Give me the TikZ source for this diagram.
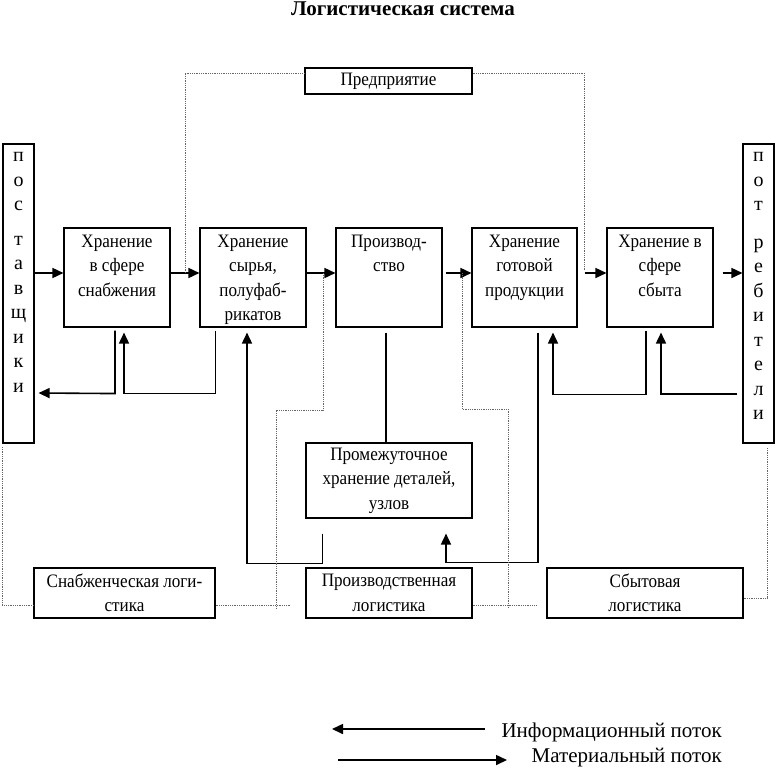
\documentclass[tikz,border=0pt]{standalone}
\usepackage{fontspec}
\setmainfont{Liberation Serif}
\newfontfamily\condfont[FakeStretch=0.9]{Liberation Serif}
\usetikzlibrary{arrows.meta}
\begin{document}
\begin{tikzpicture}[x=1pt,y=-1pt,
  box/.style={draw, line width=1.1pt, inner sep=0pt},
  btxt/.style={inner sep=0pt, align=center, font=\condfont\fontsize{19}{24.5}\selectfont},
  vtxt/.style={inner sep=0pt, align=center, font=\fontsize{20}{24.5}\selectfont},
  arr/.style={line width=1.6pt, -{Triangle[length=11pt,width=10pt]}},
  flow/.style={line width=1.6pt},
  dot/.style={densely dotted, line width=0.8pt, black!60}]
\useasboundingbox (0,0) rectangle (775,768);

% title
\node[anchor=base, font=\fontsize{21}{24}\selectfont\bfseries] (title) at (403,16) {Логистическая система};

% enterprise
\node[box, minimum width=167pt, minimum height=26pt, btxt] (ent) at (388.5,81) {Предприятие};

% suppliers / consumers
\node[box, minimum width=31pt, minimum height=299pt] (sup) at (18.5,293.5) {};
\node[box, minimum width=31pt, minimum height=299pt] (cons) at (758.5,293.5) {};
\node[vtxt, anchor=north] (suptxt) at ([yshift=-9pt]sup.north) {п\\о\\с\\[10pt]т\\а\\в\\щ\\и\\к\\и};
\node[vtxt, anchor=north] (constxt) at ([yshift=-9pt]cons.north) {п\\о\\т\\[13pt]р\\е\\б\\и\\т\\е\\л\\и};

% main boxes
\node[box, minimum width=106pt, minimum height=99pt] (b1) at (117,277.5) {};
\node[box, minimum width=106pt, minimum height=99pt] (b2) at (253,277.5) {};
\node[box, minimum width=106pt, minimum height=99pt] (b3) at (389,277.5) {};
\node[box, minimum width=105pt, minimum height=99pt] (b4) at (524.5,277.5) {};
\node[box, minimum width=106pt, minimum height=99pt] (b5) at (660,277.5) {};
\node[btxt, anchor=north] (t1) at ([yshift=-7pt]b1.north) {Хранение\\в сфере\\снабжения};
\node[btxt, anchor=north] (t2) at ([yshift=-7pt]b2.north) {Хранение\\сырья,\\полуфаб-\\рикатов};
\node[btxt, anchor=north] (t3) at ([yshift=-7pt]b3.north) {Производ-\\ство};
\node[btxt, anchor=north] (t4) at ([yshift=-7pt]b4.north) {Хранение\\готовой\\продукции};
\node[btxt, anchor=north] (t5) at ([yshift=-7pt]b5.north) {Хранение в\\сфере\\сбыта};

% intermediate storage
\node[box, minimum width=166pt, minimum height=75pt, btxt] (mid) at (389,480.5) {Промежуточное\\хранение деталей,\\узлов};

% logistics boxes
\node[box, minimum width=181pt, minimum height=50pt, btxt] (lsup) at (124.5,593) {Снабженческая логи-\\стика};
\node[box, minimum width=166pt, minimum height=50pt, btxt] (lprod) at (389,593) {Производственная\\логистика};
\node[box, minimum width=196pt, minimum height=50pt, btxt] (lsal) at (645,593) {Сбытовая\\логистика};

% material flow along the row
\draw[arr] ([yshift=20.5pt]sup.east) -- ([yshift=4.5pt]b1.west);
\draw[arr] ([yshift=4.5pt]b1.east) -- ([yshift=4.5pt]b2.west);
\draw[arr] ([yshift=4.5pt]b2.east) -- ([yshift=4.5pt]b3.west);
\draw[arr] ([yshift=4.5pt,xshift=3pt]b3.east) -- ([yshift=4.5pt]b4.west);
\draw[arr] ([yshift=4.5pt,xshift=7pt]b4.east) -- ([yshift=4.5pt]b5.west);
\draw[arr] ([yshift=4.5pt,xshift=9pt]b5.east) -- ([yshift=20.5pt]cons.west);

% lower connectors
\draw[arr] ([xshift=-2pt,yshift=-3pt]b1.south) -- ++(0,63) -- ([yshift=-99.5pt,xshift=4pt]sup.east);
\draw[arr] ([xshift=16pt,yshift=-3pt]b2.south west) -- ++(0,63) -| ([xshift=7pt,yshift=-5pt]b1.south);
\draw[arr] ([xshift=17pt,yshift=-15pt]mid.south west) -- ++(0,30) -| ([xshift=-6pt,yshift=-5pt]b2.south);
\draw[flow] ([xshift=-3pt,yshift=-5pt]b3.south) -- ([xshift=-3pt]mid.north);
\draw[arr] ([xshift=13.5pt,yshift=-5pt]b4.south) -- ++(0,230) -| ([xshift=57pt,yshift=-15pt]mid.south);
\draw[arr] ([xshift=-14pt,yshift=-3pt]b5.south) -- ++(0,64) -| ([xshift=28.5pt,yshift=-5pt]b4.south);
\draw[arr] ([yshift=-100.5pt,xshift=-5pt]cons.west) -| ([xshift=1pt,yshift=-5pt]b5.south);

% dotted boundaries
\coordinate (e1) at (185,273);
\coordinate (e2) at (185,73);
\coordinate (e3) at (584,73);
\coordinate (e4) at (584,270);
\draw[dot] (e1) -- (e2) -- ([yshift=8pt]ent.west);
\draw[dot] ([yshift=8pt]ent.east) -- (e3) -- (e4);
\coordinate (s1) at (2,447);
\coordinate (s2) at (2,605);
\draw[dot] (s1) -- (s2) -- ([yshift=-12pt]lsup.west);
\coordinate (p1) at (290,605);
\draw[dot] ([yshift=-12pt]lsup.east) -- (p1);
\coordinate (p2) at (323,273);
\coordinate (p3) at (323,410);
\coordinate (p4) at (276,410);
\coordinate (p5) at (276,609);
\draw[dot] (p2) -- (p3) -- (p4) -- (p5);
\coordinate (q1) at (462,273);
\coordinate (q2) at (462,409);
\coordinate (q3) at (508,409);
\coordinate (q4) at (508,607);
\draw[dot] (q1) -- (q2) -- (q3) -- (q4);
\coordinate (q5) at (537,605);
\draw[dot] ([yshift=-12pt]lprod.east) -- (q5);
\coordinate (r1) at (767,448);
\coordinate (r2) at (767,598);
\draw[dot] (r1) -- (r2) -- ([yshift=-5pt]lsal.east);

% legend
\coordinate (li1) at (485,729);
\coordinate (li2) at (332,729);
\coordinate (lm1) at (338,760);
\coordinate (lm2) at (507,760);
\draw[arr] (li1) -- (li2);
\draw[arr] (lm1) -- (lm2);
\node[anchor=base east, inner sep=0pt, font=\fontsize{21}{24}\selectfont] (lt1) at (722,737) {Информационный поток};
\node[anchor=base east, inner sep=0pt, font=\fontsize{21}{24}\selectfont] (lt2) at (722,762) {Материальный поток};
\end{tikzpicture}
\end{document}
